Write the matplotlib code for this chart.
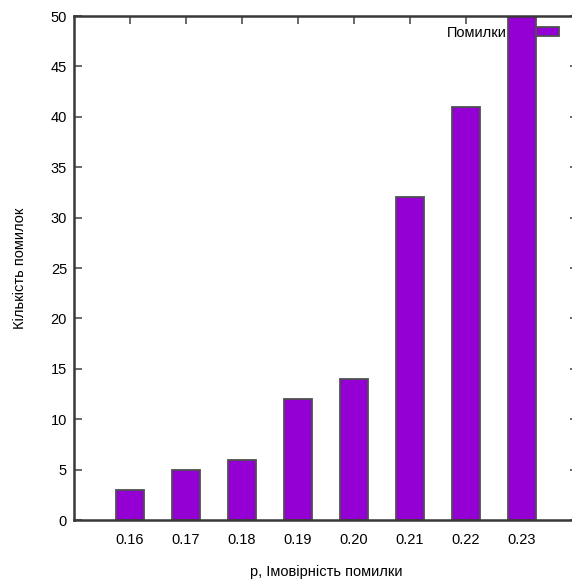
import numpy as np
import matplotlib.pyplot as plt

plt.rcParams["font.family"] = ["Liberation Sans", "DejaVu Sans"]

# Data
probs = ["0.16", "0.17", "0.18", "0.19", "0.20", "0.21", "0.22", "0.23"]
errors = [3, 5, 6, 12, 14, 32, 41, 50]

fig = plt.figure(figsize=(5.72, 5.82), dpi=100)
# right edge of the frame falls just outside the image, as in the original
ax = fig.add_axes([74 / 572, 62 / 582, 504 / 572, 504 / 582])

x = np.arange(len(probs))
ax.bar(x, errors, width=0.5, color="#9400d3", edgecolor="#505050",
       linewidth=1.3, label="Помилки", zorder=2)

ax.set_xlim(-1, 8)
ax.set_ylim(0, 50)
ax.set_xticks(x)
ax.set_xticklabels(probs)
ax.set_yticks(np.arange(0, 51, 5))
ax.tick_params(direction="in", length=6, width=1.2, color="#505050",
               top=True, right=True, labelsize=10.5)
ax.tick_params(axis="y", pad=5)
ax.tick_params(axis="x", pad=9)

for s in ax.spines.values():
    s.set_color("#383838")
    s.set_linewidth(1.8)

ax.set_xlabel("p, Імовірність помилки", fontsize=10.5, labelpad=13)
ax.set_ylabel("Кількість помилок", fontsize=10.5, labelpad=17)

leg = ax.legend(loc="upper right", bbox_to_anchor=(559 / 572, 1 - 26 / 582),
                bbox_transform=fig.transFigure, frameon=False, markerfirst=False,
                fontsize=10.5, handlelength=1.55, handleheight=0.6,
                handletextpad=2.0, borderpad=0, borderaxespad=0)
leg.set_zorder(1)

fig.savefig("out.png", dpi=100)
